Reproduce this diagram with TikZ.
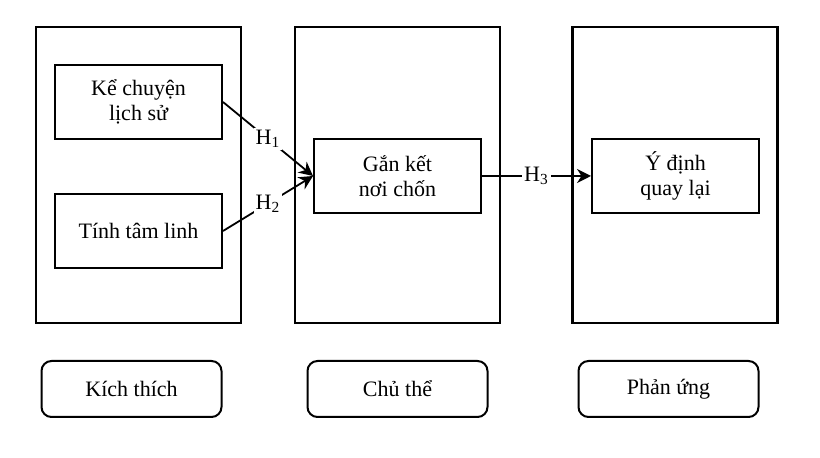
\documentclass[tikz,border=0pt]{standalone}
\usepackage{fontspec}
\setmainfont{Liberation Serif}
\usepackage{tikz}
\usetikzlibrary{arrows.meta,positioning}

\tikzset{
  stagebox/.style={draw, line width=1.1pt, minimum width=102.5pt, minimum height=148pt, inner sep=0pt},
  factorbox/.style={draw, line width=1pt, minimum width=83.5pt, minimum height=37pt, align=center, inner sep=0pt},
  namebox/.style={draw, line width=1pt, rounded corners=5pt, minimum width=90pt, minimum height=28pt, inner sep=0pt},
  hyp/.style={line width=0.9pt, -{Stealth[length=7pt,width=7pt]}},
  hlabel/.style={fill=white, inner sep=1pt}
}

\begin{document}
\begin{tikzpicture}[x=0.5pt, y=-0.5pt, every node/.style={font=\fontsize{11}{12.5}\selectfont}]
  \useasboundingbox (0,0) rectangle (820,458);
  % three stages
  \node[stagebox] (stimulus) at (138.5,175) {};
  \node[stagebox] (organism) at (397.5,175) {};
  \node[stagebox] (response) at (675,175) {};
  % factors
  \node[factorbox] (story) at (138.5,102) {Kể chuyện\\lịch sử};
  \node[factorbox] (spirit) at (138.5,231) {Tính tâm linh};
  \node[factorbox] (attach) at (397.5,176) {Gắn kết\\nơi chốn};
  \node[factorbox] (revisit) at (675.5,176) {Ý định\\quay lại};
  % hypotheses
  \draw[hyp] (story.east) -- node[hlabel] {H\textsubscript{1}} (attach.west);
  \draw[hyp] (spirit.east) -- node[hlabel] {H\textsubscript{2}} (attach.west);
  \draw[hyp] (attach.east) -- node[hlabel] {H\textsubscript{3}} (revisit.west);
  % stage names
  \node[namebox] (stimname) at (131.5,389) {Kích thích};
  \node[namebox] (orgname) at (397.5,389) {Chủ thể};
  \node[namebox] (respname) at (668.5,389) {Phản ứng};
\end{tikzpicture}
\end{document}
